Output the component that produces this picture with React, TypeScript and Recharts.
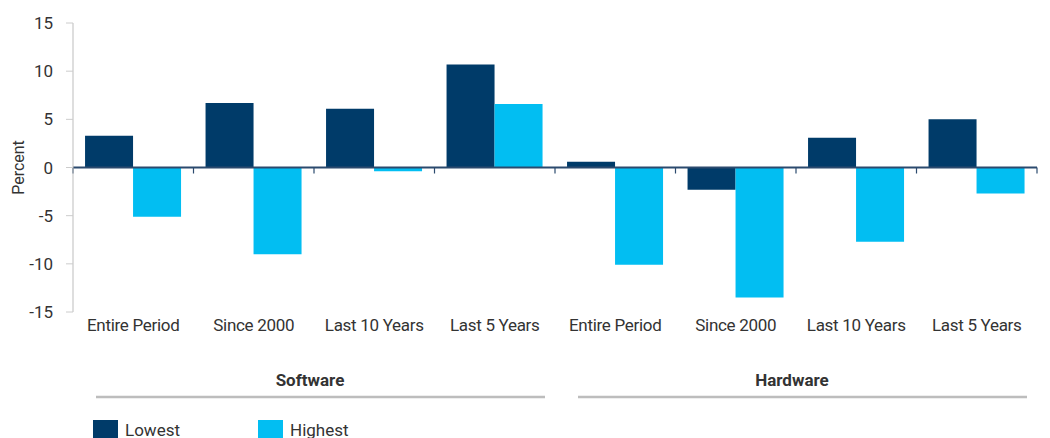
import { BarChart, Bar, XAxis, YAxis, ReferenceLine, Legend } from 'recharts'

const categories = [
  'Entire Period', 'Since 2000', 'Last 10 Years', 'Last 5 Years',
  'Entire Period', 'Since 2000', 'Last 10 Years', 'Last 5 Years',
]
const groups = ['Software', 'Software', 'Software', 'Software', 'Hardware', 'Hardware', 'Hardware', 'Hardware']
const lowest = [3.3, 6.7, 6.1, 10.7, 0.6, -2.3, 3.1, 5.0]
const highest = [-5.1, -9.0, -0.4, 6.6, -10.1, -13.5, -7.7, -2.7]
const yTicks = [-15, -10, -5, 0, 5, 10, 15]
const seriesOrder = ['Lowest', 'Highest']

const data = categories.map((label, i) => ({
  label,
  group: groups[i],
  lowest: lowest[i],
  highest: highest[i],
}))

const W = 1050
const H = 438
const LEFT = 73
const RIGHT = 13
const BAND = (W - LEFT - RIGHT) / categories.length
const FONT = 'Roboto, "Noto Sans", sans-serif'
const TEXT = '#333333'
const NAVY = '#003B69'
const CYAN = '#02BEF2'
const AXIS_DARK = '#2B4A6E'

function CategoryTick({ x, y, payload }: any) {
  return (
    <text x={x} y={y + 19} textAnchor="middle" fill={TEXT} fontSize={17} fontFamily={FONT} letterSpacing={-0.3}>
      {payload.value}
    </text>
  )
}

function GroupTick({ x, y, index, payload }: any) {
  if (index % 4 !== 0) return null
  const start = x - BAND / 2
  const mid = start + BAND * 2
  const end = start + BAND * 4
  return (
    <g>
      <text x={mid - 4} y={y + 44} textAnchor="middle" fill={TEXT} fontSize={17} fontWeight="bold" fontFamily={FONT}>
        {payload.value}
      </text>
      <line x1={start + 23} x2={end - 10} y1={y + 55} y2={y + 55} stroke="#BDBDBD" strokeWidth={2.5} />
    </g>
  )
}

function ZeroLine({ x1, x2, y1 }: any) {
  const n = categories.length
  const step = (x2 - x1) / n
  return (
    <g>
      <line x1={x1} x2={x2} y1={y1} y2={y1} stroke={AXIS_DARK} strokeWidth={2} />
      {Array.from({ length: n + 1 }, (_, i) => (
        <line key={i} x1={x1 + i * step} x2={x1 + i * step} y1={y1} y2={y1 + 6} stroke={AXIS_DARK} strokeWidth={1.2} />
      ))}
    </g>
  )
}

function LegendContent({ payload }: any) {
  const items = [...(payload || [])].sort((a: any, b: any) => seriesOrder.indexOf(a.value) - seriesOrder.indexOf(b.value))
  return (
    <div style={{ display: 'flex', paddingLeft: 93, fontFamily: FONT, fontSize: 17, color: TEXT }}>
      {items.map((p: any) => (
        <div key={p.value} style={{ display: 'flex', alignItems: 'flex-start', width: 165 }}>
          <span style={{ display: 'inline-block', width: 25, height: 20, background: p.color, marginRight: 7 }} />
          <span style={{ lineHeight: '20px' }}>{p.value}</span>
        </div>
      ))}
    </div>
  )
}

export default function App() {
  return (
    <div style={{ position: 'absolute', left: 0, top: 0, width: W, height: H, background: '#fff' }}>
      <BarChart
        width={W}
        height={H}
        data={data}
        margin={{ top: 23, right: RIGHT, bottom: 0, left: 0 }}
        barCategoryGap="10%"
        barGap={0}
      >
        <YAxis
          width={LEFT}
          domain={[-15, 15]}
          ticks={yTicks}
          interval={0}
          axisLine={{ stroke: '#BDBDBD' }}
          tickLine={{ stroke: '#CCCCCC' }}
          tickSize={7}
          tickMargin={13}
          tick={{ fill: TEXT, fontSize: 17, fontFamily: FONT }}
          label={{ value: 'Percent', angle: -90, position: 'insideLeft', offset: 18, style: { textAnchor: 'middle', fill: TEXT, fontSize: 16, fontFamily: FONT } }}
        />
        <XAxis dataKey="label" height={30} axisLine={false} tickLine={false} tickSize={0} tickMargin={0} interval={0} tick={<CategoryTick />} />
        <XAxis dataKey="group" xAxisId="grp" height={78} axisLine={false} tickLine={false} tickSize={0} tickMargin={0} interval={0} tick={<GroupTick />} />
        <Legend verticalAlign="bottom" content={<LegendContent />} wrapperStyle={{ height: 18, overflow: 'visible' }} />
        <Bar dataKey="lowest" name="Lowest" fill={NAVY} isAnimationActive={false} />
        <Bar dataKey="highest" name="Highest" fill={CYAN} isAnimationActive={false} />
        <ReferenceLine y={0} shape={<ZeroLine />} />
      </BarChart>
    </div>
  )
}
